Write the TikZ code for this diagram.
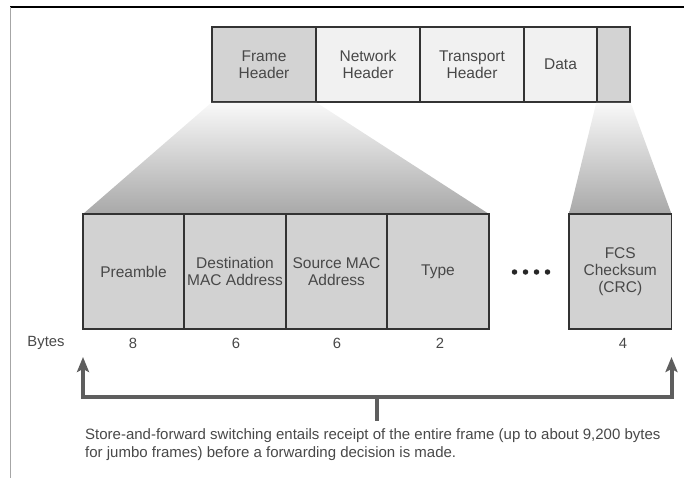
\documentclass[tikz,border=0pt]{standalone}
\usepackage{fontspec}
\setmainfont{Liberation Sans}
\usetikzlibrary{arrows.meta}
\definecolor{txt}{HTML}{484848}
\definecolor{edge}{HTML}{333333}
\definecolor{darkcell}{HTML}{D3D3D3}
\definecolor{lightcell}{HTML}{F1F1F1}
\definecolor{boxfill}{HTML}{D2D2D2}
\definecolor{arrowgray}{HTML}{5E5E5E}
\tikzset{
  cell/.style={draw=edge, line width=1.6pt, minimum height=75pt, inner sep=0pt,
    text=txt, font=\fontsize{15.5}{16.5}\selectfont, align=center},
  lowbox/.style={draw=edge, line width=1.6pt, fill=boxfill, minimum height=115pt,
    inner sep=0pt, text=txt, font=\fontsize{15.5}{17}\selectfont, align=center},
  funnel/.style={top color=white!95!gray, bottom color=gray!68!white},
  bytelbl/.style={text=txt, font=\fontsize{14.8}{16}\selectfont, inner sep=0pt},
  bigarrow/.style={draw=arrowgray, line width=4pt, -{Stealth[length=15pt,width=12pt,inset=3pt]}},
  dot/.style={circle, fill=black!85, inner sep=0pt, minimum size=5.5pt}
}
\begin{document}
\begin{tikzpicture}[x=1pt,y=-1pt]
\useasboundingbox (0,0) rectangle (684,478);
% frame lines
\draw[line width=1.5pt, black] (10,7) -- (684,7);
\draw[line width=1pt, gray!70] (10.5,7) -- (10.5,478);
% top bar
\node[cell, fill=darkcell, minimum width=104pt] (fh) at (264,64.5) {Frame\\Header};
\node[cell, fill=lightcell, minimum width=104pt] (nh) at (368,64.5) {Network\\Header};
\node[cell, fill=lightcell, minimum width=104pt] (th) at (472,64.5) {Transport\\Header};
\node[cell, fill=lightcell, minimum width=73pt] (dt) at (560.5,64.5) {Data};
\node[cell, fill=darkcell, minimum width=33pt] (fc) at (613.5,64.5) {};
% funnels
\shade[funnel] (fh.south west) -- (fh.south east) -- (489,214) -- (83,214) -- cycle;
\shade[funnel] (fc.south west) -- (fc.south east) -- (671.5,214) -- (569,214) -- cycle;
% lower boxes
\node[lowbox, minimum width=101.5pt] (pre) at (133.5,271.5) {Preamble};
\node[lowbox, minimum width=101.5pt] (dst) at (235,271.5) {Destination\\MAC Address};
\node[lowbox, minimum width=101.5pt] (src) at (336.5,271.5) {Source MAC\\Address};
\node[lowbox, minimum width=101.5pt] (typ) at (438,271.5) {Type};
\node[lowbox, minimum width=102.5pt] (fcs) at (620.25,271.5) {FCS\\Checksum\\(CRC)};
% dots
\node[dot] (d1) at (514.5,272) {};
\node[dot] (d2) at (525.5,272) {};
\node[dot] (d3) at (536.5,272) {};
\node[dot] (d4) at (547.5,272) {};
% byte labels
\node[bytelbl] (by) at (46,343) {Bytes};
\node[bytelbl] (b1) at (133,343) {8};
\node[bytelbl] (b2) at (236,343) {6};
\node[bytelbl] (b3) at (337,343) {6};
\node[bytelbl] (b4) at (440,343) {2};
\node[bytelbl] (b5) at (623,343) {4};
% arrows
\coordinate (al) at (83,397);
\coordinate (ar) at (671.5,397);
\coordinate (ltip) at (83,357);
\coordinate (rtip) at (671.5,357);
\coordinate (stem) at (377,397);
\coordinate (stemend) at (377,421);
\draw[bigarrow] (ar) -- (al) -- (ltip);
\draw[bigarrow] (al) -- (ar) -- (rtip);
\draw[draw=arrowgray, line width=4pt] (stem) -- (stemend);
% caption
\node[anchor=north west, text=txt, inner sep=0pt, align=left,
  font=\fontsize{15}{18}\selectfont] (cap) at (85,428)
  {Store-and-forward switching entails receipt of the entire frame (up to about 9,200 bytes\\for jumbo frames) before a forwarding decision is made.};
\end{tikzpicture}
\end{document}
